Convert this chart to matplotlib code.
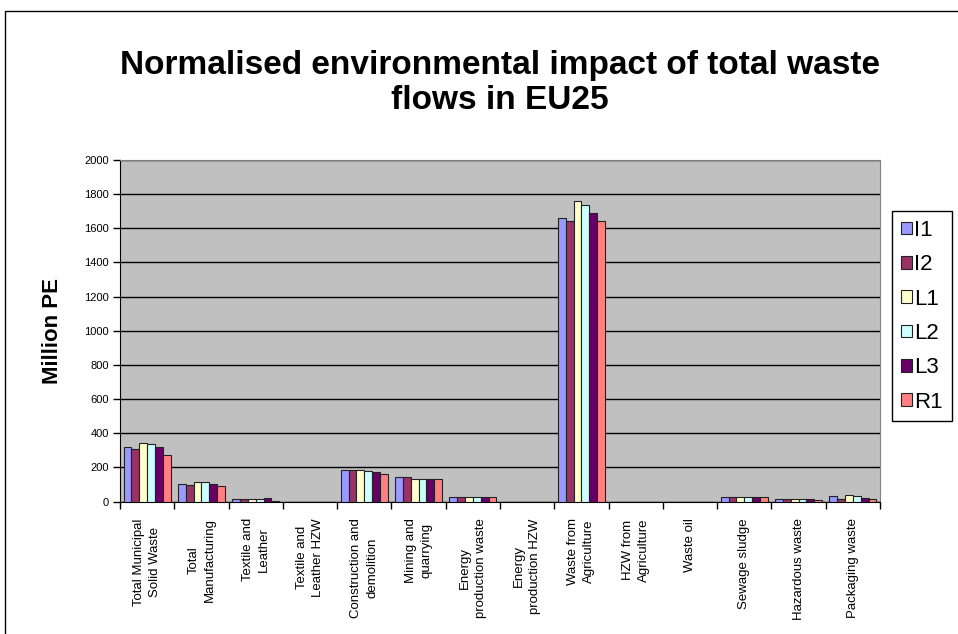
#!/usr/bin/env python3
"""Normalised environmental impact of total waste flows in EU25 (grouped bars)."""

import matplotlib

matplotlib.use("Agg")

import matplotlib.pyplot as plt
import numpy as np
from matplotlib import patches

plt.rcParams["font.family"] = ["Liberation Sans", "DejaVu Sans"]

categories = [
    "Total Municipal\nSolid Waste",
    "Total\nManufacturing",
    "Textile and\nLeather",
    "Textile and\nLeather HZW",
    "Construction and\ndemolition",
    "Mining and\nquarrying",
    "Energy\nproduction waste",
    "Energy\nproduction HZW",
    "Waste from\nAgriculture",
    "HZW from\nAgriculture",
    "Waste oil",
    "Sewage sludge",
    "Hazardous waste",
    "Packaging waste",
]

series_names = ["I1", "I2", "L1", "L2", "L3", "R1"]

i1 = [320, 105, 13, 0, 186, 145, 28, 0, 1660, 0, 0, 28, 17, 30]
i2 = [309, 96, 12, 0, 186, 145, 28, 0, 1640, 0, 0, 28, 17, 17]
l1 = [344, 113, 12, 0, 186, 131, 28, 0, 1757, 0, 0, 28, 17, 37]
l2 = [334, 113, 12, 0, 180, 131, 28, 0, 1737, 0, 0, 28, 17, 30]
l3 = [320, 105, 20, 0, 172, 131, 28, 0, 1690, 0, 0, 28, 17, 23]
r1 = [273, 92, 5, 0, 160, 131, 28, 0, 1645, 0, 0, 28, 10, 13]

series_values = [i1, i2, l1, l2, l3, r1]
colors = ["#9999FF", "#993366", "#FFFFCC", "#CCFFFF", "#660066", "#FF8080"]

y_ticks = list(range(0, 2001, 200))


def main() -> None:
    fig = plt.figure(figsize=(9.58, 6.34), dpi=100)
    fig.patch.set_facecolor("white")

    # outer chart-area border (cut off at right and bottom like the source)
    fig.add_artist(
        patches.Rectangle(
            (5 / 958, -0.05), 1.1, 1.05 - 11 / 634,
            transform=fig.transFigure, facecolor="none",
            edgecolor="black", linewidth=1.0,
        )
    )

    ax = fig.add_axes([120 / 958, 132.5 / 634, 760 / 958, 341.5 / 634])
    ax.set_facecolor("#C0C0C0")

    x = np.arange(len(categories))
    width = 0.145
    for k, (name, vals, col) in enumerate(zip(series_names, series_values, colors)):
        ax.bar(
            x + (k - 2.5) * width, vals, width,
            color=col, edgecolor="#222222", linewidth=0.8, label=name, zorder=3,
        )

    ax.set_xlim(-0.5, len(categories) - 0.5)
    ax.set_ylim(0, 2000)
    ax.set_yticks(y_ticks)
    ax.set_yticklabels([str(v) for v in y_ticks], fontsize=8)
    ax.yaxis.grid(True, color="black", linewidth=1.0, zorder=1)
    ax.set_axisbelow(True)

    ax.set_xticks(x)
    ax.set_xticklabels(
        categories, rotation=90, fontsize=9.5, ha="center", va="top",
        multialignment="center", linespacing=1.45,
    )
    ax.set_xticks(np.arange(-0.5, len(categories)), minor=True)
    ax.tick_params(axis="x", which="major", length=0, pad=12)
    ax.tick_params(axis="x", which="minor", length=5, width=1, color="black")
    ax.tick_params(axis="y", length=5, width=1, direction="out", pad=3)

    for side in ("top", "right"):
        ax.spines[side].set_color("#808080")
    for side in ("left", "bottom"):
        ax.spines[side].set_color("black")

    ax.set_ylabel("Million PE", fontsize=16, fontweight="bold", labelpad=15)

    fig.text(
        500 / 958, (634 - 83) / 634,
        "Normalised environmental impact of total waste\nflows in EU25",
        ha="center", va="center", fontsize=24, fontweight="bold", linespacing=1.2,
    )

    leg = fig.legend(
        loc="upper left", bbox_to_anchor=(892 / 958, (634 - 211) / 634),
        borderaxespad=0, fontsize=16, handlelength=0.5, handleheight=0.5,
        handletextpad=0.1, labelspacing=0.6, borderpad=0.4, fancybox=False,
        edgecolor="black", framealpha=1,
    )
    leg.get_frame().set_linewidth(1.0)

    fig.savefig("out.png", dpi=100)
    plt.close(fig)


if __name__ == "__main__":
    main()
